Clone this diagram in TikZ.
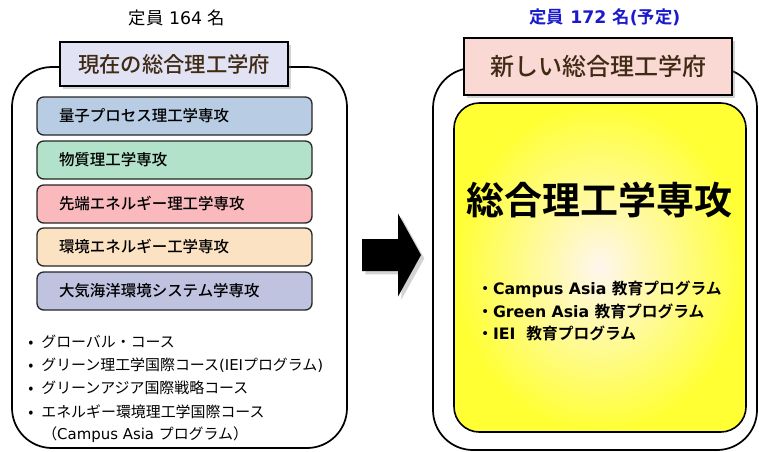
\documentclass[tikz,border=0pt]{standalone}
\usepackage{fontspec}
\setmainfont{Noto Sans CJK JP}[BoldFont={Noto Sans CJK JP Bold}]
\newfontfamily\cjkmed{Noto Sans CJK JP Medium}
\newfontfamily\lat{DejaVu Sans}
\usetikzlibrary{shadows}
\definecolor{titlebrown}{HTML}{3F2A14}
\definecolor{tbblue}{HTML}{E1E3F4}
\definecolor{tbpink}{HTML}{FAD9D5}
\definecolor{cblue}{HTML}{B8CCE4}
\definecolor{cgreen}{HTML}{B2E2CA}
\definecolor{cpink}{HTML}{F9B9BD}
\definecolor{cpeach}{HTML}{FBE2C2}
\definecolor{cviolet}{HTML}{BFC3E0}
\definecolor{capblue}{HTML}{1A1ACC}
\definecolor{ylw}{HTML}{FFFF33}
\definecolor{ylwc}{HTML}{FFF6EE}
\begin{document}
\begin{tikzpicture}[x=0.75pt,y=-0.75pt,
  outerbox/.style={draw, line width=1.3pt, rounded corners=30pt, inner sep=0pt},
  titlebox/.style={draw, line width=1.2pt, inner sep=0pt, text=titlebrown,
    drop shadow={shadow xshift=2.5pt, shadow yshift=-2.5pt, opacity=0.35}},
  deptbox/.style={draw=black!85, line width=1pt, rounded corners=5pt,
    minimum height=28.5pt, text width=173.25pt, inner xsep=16.5pt, inner ysep=0pt,
    align=left, font=\cjkmed\fontsize{11.6}{13}\selectfont},
  bul/.style={anchor=west, inner sep=0pt, font=\fontsize{11.2}{13}\selectfont},
  ybul/.style={anchor=west, inner sep=0pt, font=\bfseries\fontsize{11.8}{13}\selectfont},
]
\useasboundingbox (0,0) rectangle (759,451);

% captions
\node[font=\fontsize{13}{15}\selectfont] (capL) at (177,18) {定員{\lat\ 164\ }名};
\node[font=\bfseries\fontsize{13}{15}\selectfont, text=capblue] (capR) at (605,17) {定員{\lat\bfseries\ 172\ }名{\lat\bfseries (}予定{\lat\bfseries )}};

% outer boxes
\node[outerbox, minimum width=251.25pt, minimum height=285.75pt] (outL) at (179.5,257.5) {};
\node[outerbox, minimum width=243pt, minimum height=286.5pt] (outR) at (595,259) {};

% title boxes
\node[titlebox, fill=tbblue, minimum width=171pt, minimum height=33pt,
  font=\cjkmed\fontsize{16}{18}\selectfont] (titL) at (174,64) {現在の総合理工学府};
\node[titlebox, fill=tbpink, minimum width=201pt, minimum height=42.75pt,
  font=\cjkmed\fontsize{18}{20}\selectfont] (titR) at (598,66.5) {新しい総合理工学府};

% department boxes
\node[deptbox, fill=cblue]   (d1) at (174.5,116) {量子プロセス理工学専攻};
\node[deptbox, fill=cgreen]  (d2) at (174.5,160) {物質理工学専攻};
\node[deptbox, fill=cpink]   (d3) at (174.5,204) {先端エネルギー理工学専攻};
\node[deptbox, fill=cpeach]  (d4) at (174.5,247) {環境エネルギー工学専攻};
\node[deptbox, fill=cviolet] (d5) at (174.5,291) {大気海洋環境システム学専攻};

% left bullet list
\node[bul] (l1) at (28,342) {•\hspace{6pt}グローバル・コース};
\node[bul] (l2) at (28,365) {•\hspace{6pt}グリーン理工学国際コース{\lat (IEI}プログラム{\lat )}};
\node[bul] (l3) at (28,388) {•\hspace{6pt}グリーンアジア国際戦略コース};
\node[bul] (l4) at (28,412) {•\hspace{6pt}エネルギー環境理工学国際コース};
\node[bul] (l5) at (42,435) {（{\lat Campus Asia\ }プログラム）};

% arrow
\fill[black, drop shadow={shadow xshift=2.5pt, shadow yshift=-2.5pt, opacity=0.35}]
  (362,239) -- (398,239) -- (398,213.5) -- (421,255) -- (398,296.5) -- (398,271) -- (362,271) -- cycle;

% yellow major box
\node[draw, line width=1.2pt, rounded corners=19pt, inner sep=0pt,
  minimum width=219pt, minimum height=246.75pt,
  inner color=ylwc, outer color=ylw] (maj) at (600,267.5) {};
\node[font=\bfseries\fontsize{28.5}{32}\selectfont] (majT) at (599,200) {総合理工学専攻};

\node[ybul] (r1) at (477,289) {・{\lat\bfseries Campus Asia\ }教育プログラム};
\node[ybul] (r2) at (477,311) {・{\lat\bfseries Green Asia\ }教育プログラム};
\node[ybul] (r3) at (477,333) {・{\lat\bfseries IEI\ \ }教育プログラム};
\end{tikzpicture}
\end{document}
